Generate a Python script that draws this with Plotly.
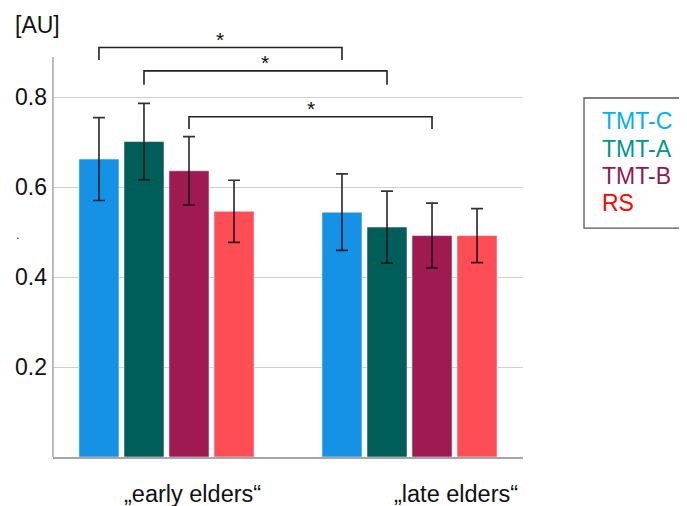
import plotly.graph_objects as go

categories = ["early elders", "late elders"]
category_labels = ["„early elders“", "„late elders“"]
series_names = ["TMT-C", "TMT-A", "TMT-B", "RS"]
tmt_c = [0.662, 0.544]
tmt_a = [0.701, 0.511]
tmt_b = [0.636, 0.492]
rs = [0.546, 0.492]
tmt_c_err = [0.092, 0.085]
tmt_a_err = [0.085, 0.080]
tmt_b_err = [0.076, 0.072]
rs_err = [0.069, 0.060]
bar_colors = ["#1591E6", "#005E5A", "#9E1A50", "#FF4D56"]
legend_colors = ["#00B0F0", "#00968A", "#8E1A55", "#FF0000"]
tick_vals = [0.2, 0.4, 0.6, 0.8]
tick_text = ["0.2", "0.4", "0.6", "0.8"]

# significance brackets: (group a, series a, group b, series b, bracket height, leg bottom)
brackets = [
    (0, 0, 1, 0, 0.910, 0.882),
    (0, 1, 1, 1, 0.858, 0.827),
    (0, 2, 1, 2, 0.756, 0.729),
]

FONT = "Liberation Sans, Arial, sans-serif"
values = [tmt_c, tmt_a, tmt_b, rs]
errors = [tmt_c_err, tmt_a_err, tmt_b_err, rs_err]

fig = go.Figure()
for name, vals, errs, col in zip(series_names, values, errors, bar_colors):
    fig.add_trace(go.Bar(
        x=categories, y=vals, name=name,
        marker=dict(color=col, line=dict(color="rgba(255,255,255,0.5)", width=1)),
        error_y=dict(type="data", array=errs, color="rgba(15,15,15,0.85)",
                     thickness=1.7, width=6),
        showlegend=False,
    ))

x_left, x_right = -0.467, 1.467
ymax = 0.96
BARGAP = 0.259
slot = (1 - BARGAP) / 4


def bar_x(g, s):
    return g - (1 - BARGAP) / 2 + slot * (s + 0.5)


shapes = []
annotations = []
for ga, sa, gb, sb, top, leg in brackets:
    xa, xb = bar_x(ga, sa), bar_x(gb, sb)
    shapes.append(dict(type="path", xref="x", yref="y",
                       path=f"M {xa},{leg} L {xa},{top} L {xb},{top} L {xb},{leg}",
                       line=dict(color="#222222", width=1.6)))
    annotations.append(dict(x=(xa + xb) / 2, y=top, xref="x", yref="y",
                            text="*", showarrow=False, yanchor="bottom",
                            yshift=-5, font=dict(size=21, color="#111111", family=FONT)))

# y axis line
shapes.append(dict(type="line", xref="paper", yref="y", x0=0, x1=0, y0=0, y1=0.889,
                   line=dict(color="#A6A6A6", width=1.5)))
# legend box
shapes.append(dict(type="rect", xref="paper", yref="paper", x0=1.1298, x1=1.3405,
                   y0=0.530, y1=0.831, line=dict(color="#555555", width=1.3)))
leg_y = [0.7778, 0.7141, 0.6505, 0.5880]
for name, col, yy in zip(series_names, legend_colors, leg_y):
    annotations.append(dict(x=1.1638, y=yy, xref="paper", yref="paper", text=name,
                            showarrow=False, xanchor="left", yanchor="middle",
                            font=dict(size=23, color=col, family=FONT)))

# category labels
label_shift = [26, 46]
for cat, lab, sh in zip(categories, category_labels, label_shift):
    annotations.append(dict(x=cat, y=-0.0856, xref="x", yref="paper", text=lab,
                            showarrow=False, xshift=sh, yanchor="middle",
                            font=dict(size=23.5, color="#111111", family=FONT)))

annotations.append(dict(x=-0.0851, y=1.0, xref="paper", yref="paper", text="[AU]",
                        showarrow=False, xanchor="left", yanchor="middle",
                        font=dict(size=23, color="#111111", family=FONT)))
annotations.append(dict(x=-0.0745, y=0.515, xref="paper", yref="paper", text=".",
                        showarrow=False, xanchor="center", yanchor="middle",
                        font=dict(size=13, color="#222222", family=FONT)))

# page has an 8px body margin; size the figure so the plot lands where the reference has it
fig.update_layout(
    width=679, height=498,
    margin=dict(l=45, r=164, t=17, b=49),
    plot_bgcolor="white", paper_bgcolor="white",
    barmode="group", bargap=BARGAP, bargroupgap=0.111,
    shapes=shapes, annotations=annotations,
    font=dict(family=FONT, color="#111111"),
    xaxis=dict(range=[x_left, x_right], showticklabels=False, showline=True,
               linecolor="#A6A6A6", linewidth=1.5, showgrid=False, ticks="",
               automargin=False),
    yaxis=dict(range=[0, ymax], tickvals=tick_vals, ticktext=tick_text,
               showgrid=True, gridcolor="#D0D0D0", gridwidth=1, zeroline=False,
               showline=False, ticks="", ticklabelstandoff=5, automargin=False,
               tickfont=dict(size=23, color="#111111", family=FONT)),
)

fig.write_html("out.html")
